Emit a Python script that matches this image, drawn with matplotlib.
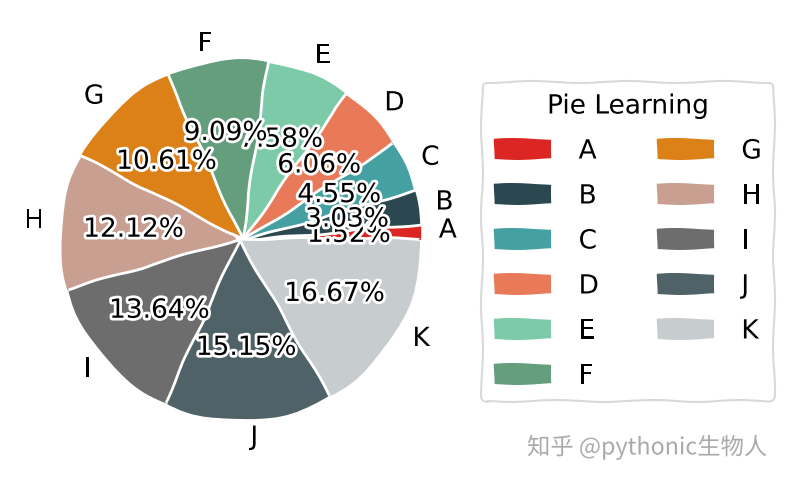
import matplotlib
matplotlib.use("Agg")
import matplotlib.pyplot as plt

categories = ["A", "B", "C", "D", "E", "F", "G", "H", "I", "J", "K"]
values = [1, 2, 3, 4, 5, 6, 7, 8, 9, 10, 11]
colors = ["#dc2624", "#2b4750", "#45a0a2", "#e87a59", "#7dcaa9", "#649e7d",
          "#dc8018", "#c89f91", "#6c6d6c", "#4f6268", "#c7cccf"]
legend_title = "Pie Learning"
watermark = "知乎 @pythonic生物人"

plt.xkcd()
plt.rcParams['font.family'] = ['DejaVu Sans']

W, H = 786, 483
fig = plt.figure(figsize=(W / 100, H / 100), dpi=100)

cx, cy, r = 241, 240, 180
L = 1.3
w = 2 * L * r
ax = fig.add_axes([(cx - w / 2) / W, (H - cy - w / 2) / H, w / W, w / H])

wedges, texts, autotexts = ax.pie(values, labels=categories, colors=colors,
                                  autopct='%.2f%%', pctdistance=0.6, labeldistance=1.1,
                                  textprops={'fontsize': 19})
ax.set_xlim(-L, L)
ax.set_ylim(-L, L)
ax.set_aspect('equal')

leg = ax.legend(wedges, categories, title=legend_title, ncol=2, loc='center',
                bbox_to_anchor=(628 / W, 1 - 241.5 / H), bbox_transform=fig.transFigure,
                fontsize=19, title_fontsize=19, handlelength=2.2, handleheight=0.78,
                labelspacing=0.72, handletextpad=1.0, columnspacing=2.2,
                borderpad=0.45, frameon=True)
leg.get_frame().set_edgecolor('#d0d0d0')
leg.get_frame().set_linewidth(1.5)

fig.text(527 / W, 1 - 447 / H, watermark, fontsize=16.8, color='#aaaaaa',
         va='center', ha='left', family=['Noto Sans CJK SC', 'DejaVu Sans'])

fig.savefig('out.png', dpi=100)
